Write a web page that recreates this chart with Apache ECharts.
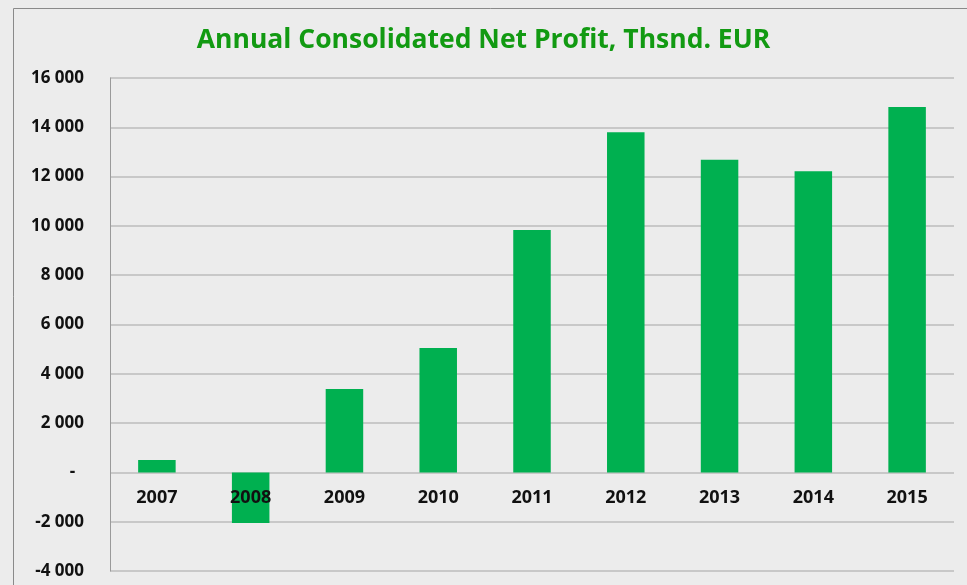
<!DOCTYPE html>
<html>
<head>
<meta charset="utf-8">
<script src="https://cdn.jsdelivr.net/npm/echarts@6/dist/echarts.min.js"></script>
<style>
  html, body { margin: 0; padding: 0; background: #ececec; }
  #chart { width: 967px; height: 585px; }
</style>
</head>
<body>
<div id="chart"></div>
<script>
// values, thousand EUR
const years = ['2007', '2008', '2009', '2010', '2011', '2012', '2013', '2014', '2015']
const profit = [500, -2050, 3380, 5050, 9830, 13800, 12680, 12220, 14820]
const zeros = years.map(() => 0)

const chart = echarts.init(document.getElementById('chart'))

function fmt(v) {
  if (v === 0) return '-  '
  const s = String(Math.abs(v)).replace(/\B(?=(\d{3})+(?!\d))/g, ' ')
  return (v < 0 ? '-' : '') + s
}

chart.setOption({
  backgroundColor: '#ececec',
  textStyle: { fontFamily: 'Open Sans' },
  title: {
    text: 'Annual Consolidated Net Profit, Thsnd. EUR',
    left: 'center',
    top: 22,
    textStyle: { color: '#129a12', fontSize: 26.5, fontWeight: 'bold', fontFamily: 'Open Sans' }
  },
  graphic: [
    { type: 'line', shape: { x1: 13.5, y1: 8.5, x2: 13.5, y2: 585 }, style: { stroke: '#8a8a8a', lineWidth: 1 } },
    { type: 'line', shape: { x1: 13.5, y1: 8.5, x2: 967, y2: 8.5 }, style: { stroke: '#8a8a8a', lineWidth: 1 } }
  ],
  grid: { left: 110, right: 13, top: 78, bottom: 14, outerBoundsMode: 'none' },
  xAxis: {
    type: 'category',
    data: years,
    axisLine: { show: false },
    axisTick: { show: false },
    axisLabel: { show: false }
  },
  yAxis: {
    type: 'value',
    min: -4000,
    max: 16000,
    interval: 2000,
    axisLine: { show: true, lineStyle: { color: '#9a9a9a' } },
    axisTick: { show: false },
    splitLine: { lineStyle: { color: '#bdbdbd', width: 1.5 } },
    axisLabel: { color: '#111', fontSize: 17, fontWeight: 'bold', margin: 26, formatter: fmt }
  },
  series: [
    {
      type: 'bar',
      data: profit,
      barWidth: '40%',
      itemStyle: { color: '#00b050' },
      z: 2
    },
    {
      // category labels sitting just under the zero line
      type: 'scatter',
      data: zeros,
      symbolSize: 0,
      silent: true,
      z: 5,
      itemStyle: { opacity: 1 },
      label: {
        show: true,
        position: 'bottom',
        distance: 16,
        formatter: p => p.name,
        color: '#111',
        opacity: 1,
        fontSize: 18,
        fontWeight: 'bold',
        fontFamily: 'Open Sans'
      }
    }
  ]
})
</script>
</body>
</html>
